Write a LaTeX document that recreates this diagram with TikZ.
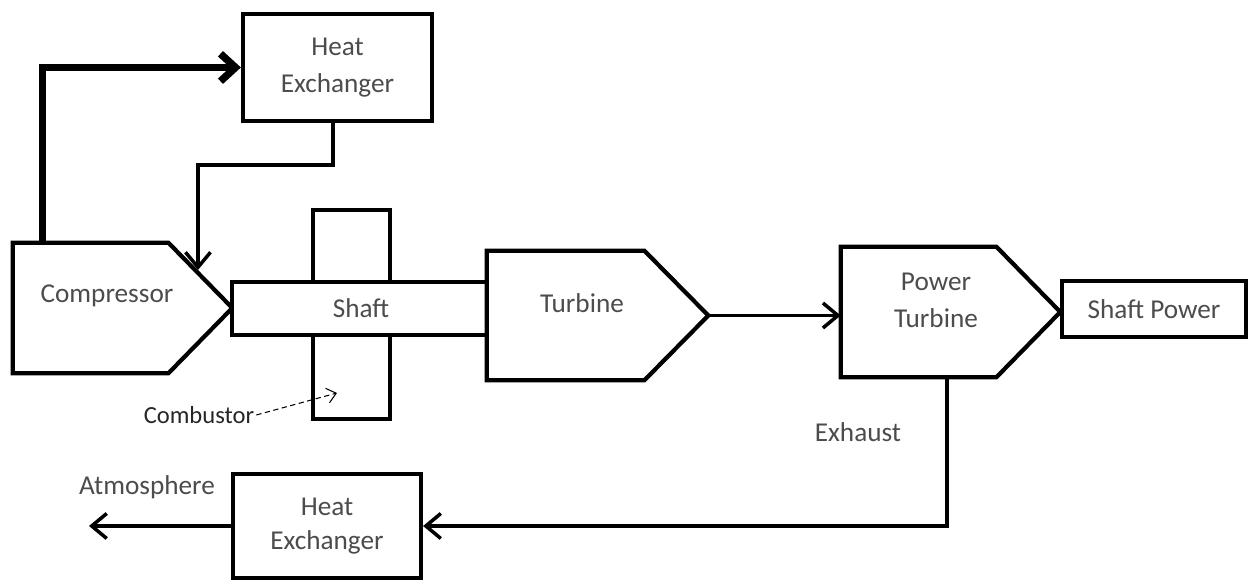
\documentclass[tikz,border=0pt]{standalone}
\usepackage{fontspec}
\setmainfont{Carlito}
\usetikzlibrary{arrows.meta}

\begin{document}
\begin{tikzpicture}[
    x=0.02cm, y=-0.02cm,
    box/.style={rectangle, draw, line width=2.4pt, fill=white, inner sep=0pt, align=center,
        font=\fontsize{15.5}{21}\selectfont, text=black!70},
    pentbody/.style={rectangle, inner sep=0pt, minimum width=3.1cm, minimum height=2.6cm},
    outline/.style={draw, line width=2.4pt, fill=white, line join=miter},
    lbl/.style={font=\fontsize{15.5}{21}\selectfont, text=black!70, align=center},
    flow/.style={-{Straight Barb[length=3mm,width=5mm]}, line width=2pt},
    bigflow/.style={-{Straight Barb[length=3mm,width=5.5mm]}, line width=4.2pt}
]
\useasboundingbox (0,0) rectangle (1249,580);

\node[box, minimum width=3.78cm, minimum height=2.14cm] (hxtop) at (337.5,67.5) {Heat\\Exchanger};

\node[pentbody] (comp) at (90.5,308) {};
\draw[outline] (comp.north west) -- (comp.north east) -- ([xshift=1.28cm]comp.east) coordinate (comptip)
    -- (comp.south east) -- (comp.south west) -- cycle;

\node[box, minimum width=1.54cm, minimum height=4.18cm] (comb) at (351.5,314.5) {};
\node[box, minimum width=5.16cm, minimum height=1.06cm] (shaft) at (361,308.5) {Shaft};

\node[pentbody, minimum width=3.14cm, minimum height=2.58cm] (turb) at (565.5,315.5) {};
\draw[outline] (turb.north west) -- (turb.north east) -- ([xshift=1.28cm]turb.east) coordinate (turbtip)
    -- (turb.south east) -- (turb.south west) -- cycle;

\node[pentbody] (pturb) at (918.5,312) {};
\draw[outline] (pturb.north west) -- (pturb.north east) -- ([xshift=1.28cm]pturb.east) coordinate (pturbtip)
    -- (pturb.south east) -- (pturb.south west) -- cycle;

\node[box, minimum width=3.68cm, minimum height=1.12cm] (spower) at (1154,309) {Shaft Power};
\node[box, minimum width=3.76cm, minimum height=2.08cm] (hxbot) at (327,526) {Heat\\[-2pt]Exchanger};

\node[lbl] (comptext) at (107,296) {Compressor};
\node[lbl] (turbtext) at (582,303) {Turbine};
\node[lbl] (pturbtext) at (936,300) {Power\\Turbine};
\node[lbl] (exhaust) at (858,432) {Exhaust};
\node[lbl] (atmtext) at (147,487) {Atmosphere};
\node[font=\fontsize{14}{17}\selectfont, text=black!85, inner sep=1pt] (combtext) at (199,415) {Combustor};

\coordinate (inlet) at (198,270);
\coordinate (atm) at (hxbot.west -| 89,0);
\coordinate (combpt) at (337,393);

\draw[bigflow] ([xshift=0.6cm]comp.north west) |- (hxtop.west);
\draw[flow] ([xshift=-0.09cm]hxtop.south) -- ++(0,42) -| (inlet);
\draw[flow] (turbtip) -- (turbtip -| pturb.west);
\draw[flow] ([xshift=0.57cm]pturb.south) |- (hxbot.east);
\draw[flow] (hxbot.west) -- (atm);
\draw[-{Straight Barb[length=1.8mm,width=3mm]}, densely dashed, line width=0.6pt] (combtext.east) -- (combpt);
\end{tikzpicture}
\end{document}
